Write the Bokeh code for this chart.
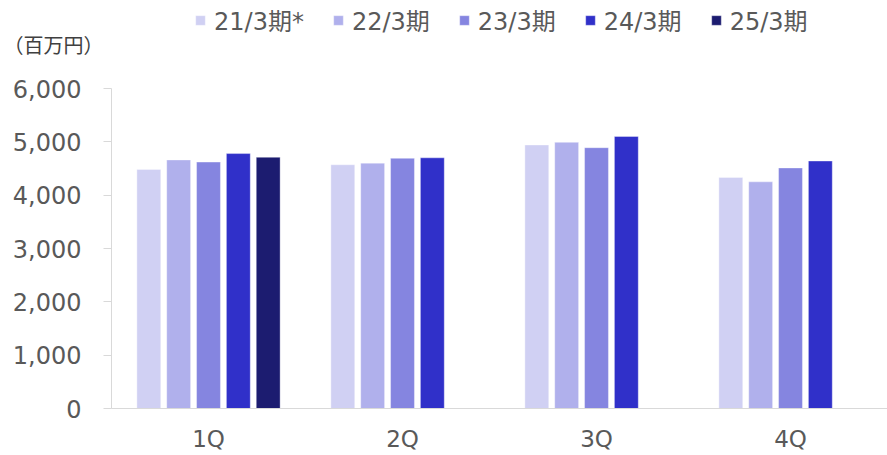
from bokeh.plotting import figure
from bokeh.layouts import column
from bokeh.models import FactorRange, ColumnDataSource, Legend, LegendItem, NumeralTickFormatter, FixedTicker
from bokeh.transform import dodge
from bokeh.embed import file_html
from bokeh.resources import INLINE

quarters = ["1Q", "2Q", "3Q", "4Q"]
series_names = ["21/3期*", "22/3期", "23/3期", "24/3期", "25/3期"]
fy21 = [4480, 4570, 4940, 4330]
fy22 = [4660, 4600, 4990, 4250]
fy23 = [4620, 4690, 4890, 4510]
fy24 = [4780, 4700, 5100, 4640]
fy25_quarters = ["1Q"]
fy25 = [4710]
colors = ["#D0D0F3", "#B0B0EC", "#8585E0", "#3030C9", "#1C1C70"]
y_ticks = [0, 1000, 2000, 3000, 4000, 5000, 6000]
unit_text = "（百万円）"

FONT = "DejaVu Sans, Noto Sans CJK JP"
TXT = "#595959"
AX = "#D9D9D9"

series = [
    (quarters, fy21), (quarters, fy22), (quarters, fy23), (quarters, fy24), (fy25_quarters, fy25)
]
sources = [ColumnDataSource(dict(q=qs, v=vals)) for qs, vals in series]

# ---- header strip: legend + unit label ----
TOP_H = 60
UNIT_Y = 13
head = figure(width=887, height=TOP_H, x_range=(0, 779), y_range=(0, TOP_H),
              x_axis_location=None, y_axis_location="left",
              min_border_left=108, min_border_right=0, min_border_top=0, min_border_bottom=0,
              output_backend="svg", toolbar_location=None)
head.title_location = None
head.outline_line_color = None
head.grid.visible = False

# unit label drawn as the single tick label of the header's left axis
head.yaxis.ticker = FixedTicker(ticks=[UNIT_Y])
head.yaxis.major_label_overrides = {UNIT_Y: unit_text}
head.yaxis.axis_line_color = None
head.yaxis.major_tick_line_color = None
head.yaxis.minor_tick_line_color = None
head.yaxis.major_tick_out = 0
head.yaxis.major_tick_in = 0
head.yaxis.major_label_standoff = 8
head.yaxis.major_label_text_font = "Noto Sans CJK JP"
head.yaxis.major_label_text_font_size = "20px"
head.yaxis.major_label_text_color = "#404040"

legend_renderers = []
for src, col in zip(sources, colors):
    # hidden copies of the series, used only to draw the legend swatches
    r = head.vbar(x="v", top="v", width=1, source=src, fill_color=col, line_color="white",
                  line_alpha=0.35, line_width=1, visible=False)
    legend_renderers.append(r)

legend = Legend(items=[LegendItem(label=n, renderers=[r]) for n, r in zip(series_names, legend_renderers)],
                orientation="horizontal", location=(83, 23),
                glyph_width=12, glyph_height=12, label_standoff=8, spacing=28,
                padding=0, margin=0, border_line_color=None, background_fill_alpha=0,
                inactive_fill_alpha=0,
                label_text_font=FONT, label_text_font_size="24px", label_text_color=TXT)
head.add_layout(legend)

# ---- main chart ----
p = figure(x_range=FactorRange(factors=quarters, range_padding=0), y_range=(0, 6000),
           width=887, height=455 - TOP_H, output_backend="svg", toolbar_location=None,
           min_border_left=108, min_border_right=0, min_border_top=88 - TOP_H, min_border_bottom=47)
p.title_location = None
p.outline_line_color = None
p.grid.visible = False

offsets = [-0.3077, -0.1538, 0.0, 0.1538, 0.3077]
for src, off, col in zip(sources, offsets, colors):
    p.vbar(x=dodge("q", off, range=p.x_range), top="v", width=0.123, source=src,
           fill_color=col, line_color="white", line_alpha=0.35, line_width=1)

p.yaxis.ticker = FixedTicker(ticks=y_ticks)
p.yaxis.formatter = NumeralTickFormatter(format="0,0")
p.yaxis.axis_line_color = AX
p.yaxis.major_tick_line_color = AX
p.yaxis.major_tick_out = 8
p.yaxis.major_tick_in = 0
p.yaxis.minor_tick_line_color = None
p.yaxis.major_label_standoff = 22
p.yaxis.major_label_text_font = FONT
p.yaxis.major_label_text_font_size = "24px"
p.yaxis.major_label_text_color = TXT

p.xaxis.axis_line_color = AX
p.xaxis.major_tick_line_color = None
p.xaxis.major_tick_out = 0
p.xaxis.major_label_standoff = 17
p.xaxis.major_label_text_font = FONT
p.xaxis.major_label_text_font_size = "23px"
p.xaxis.major_label_text_color = TXT

layout = column(head, p, spacing=0)
open("out.html", "w").write(file_html(layout, INLINE))
